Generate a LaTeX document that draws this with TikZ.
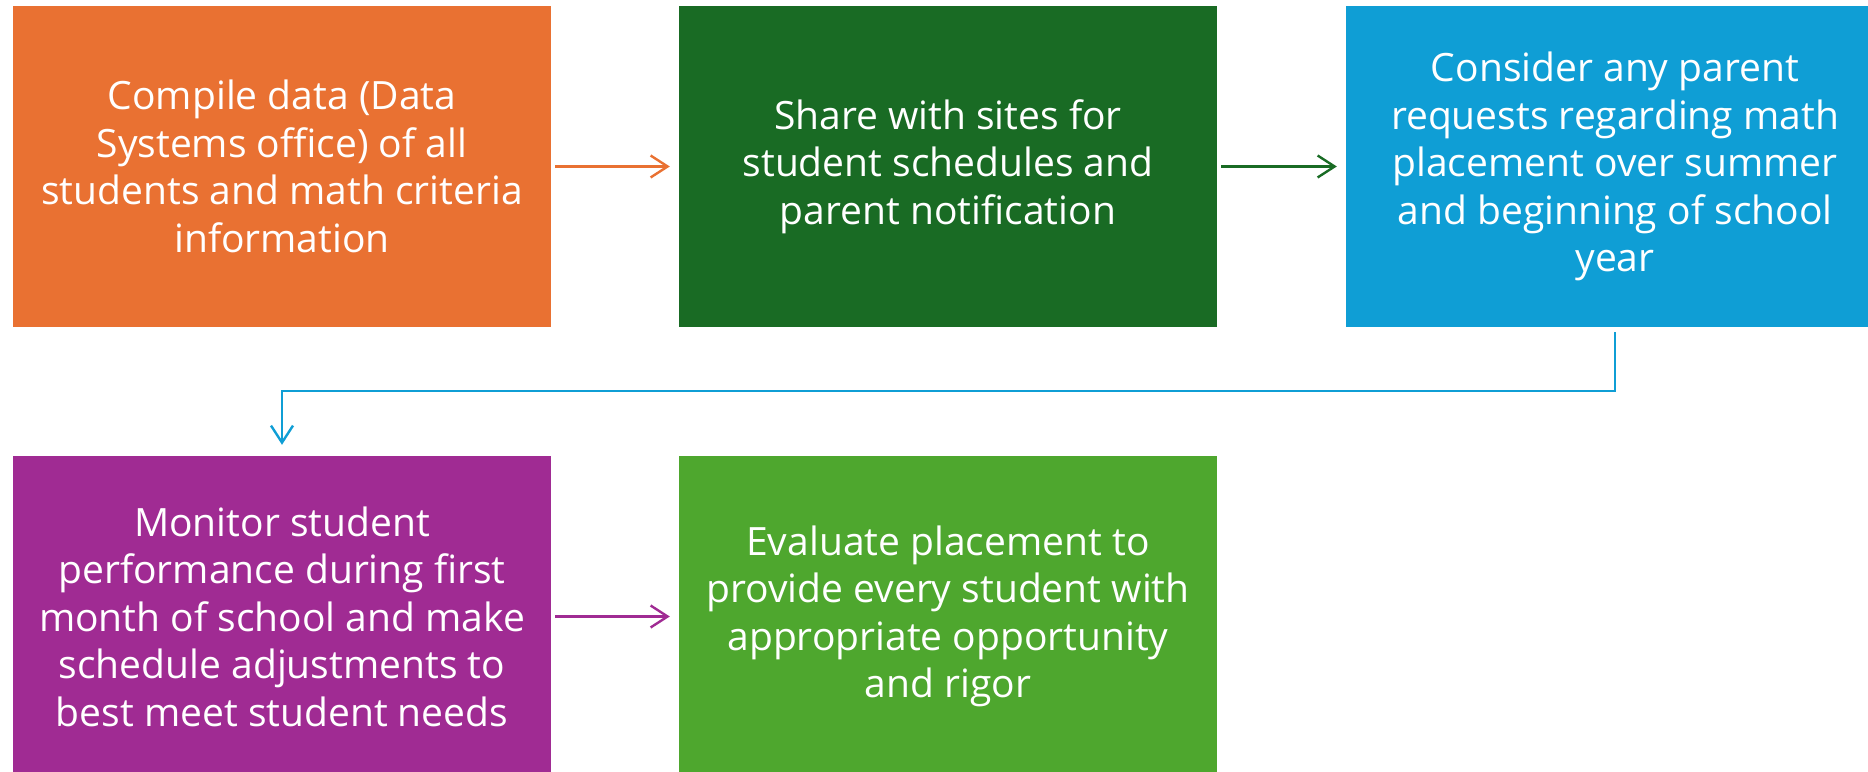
\documentclass[tikz,border=0pt]{standalone}
\usepackage{fontspec}
\setmainfont{Open Sans}
\usepackage{tikz}
\usetikzlibrary{arrows.meta}
\definecolor{accOrange}{HTML}{E97132}
\definecolor{accDark}{HTML}{196B24}
\definecolor{accBlue}{HTML}{0F9ED5}
\definecolor{accPurple}{HTML}{A02B93}
\definecolor{accGreen}{HTML}{4EA72E}
\tikzstyle{process} = [rectangle, minimum width=538pt, minimum height=321pt, inner sep=0pt, text centered, align=center, text=white, font=\fontsize{39}{47.5}\selectfont]
\tikzstyle{arrow} = [line width=2.4pt, -{Straight Barb[length=17pt,width=22pt,line width=2.4pt]}, shorten <=4pt, shorten >=9pt]

\begin{document}
\begin{tikzpicture}[node distance=666pt]
\clip (0,0) rectangle (1868pt,771pt);

\node (compile) [process, fill=accOrange] at (282pt,604.5pt) {Compile data (Data\\Systems office) of all\\students and math criteria\\information};
\node (share) [process, fill=accDark, right of=compile] {Share with sites for\\student schedules and\\parent notification};
\node (consider) [process, fill=accBlue, right of=share, node distance=667pt] {Consider any parent\\requests regarding math\\placement over summer\\and beginning of school\\year};
\node (monitor) [process, fill=accPurple, below of=compile, node distance=450pt] {Monitor student\\performance during first\\month of school and make\\schedule adjustments to\\best meet student needs};
\node (evaluate) [process, fill=accGreen, right of=monitor] {Evaluate placement to\\provide every student with\\appropriate opportunity\\and rigor};

\draw [arrow, accOrange] (compile) -- (share);
\draw [arrow, accDark] (share) -- (consider);
\draw [arrow, accBlue, shorten <=5pt, shorten >=11pt] (consider.south) -- ++(0,-64pt) -| (monitor.north);
\draw [arrow, accPurple] (monitor) -- (evaluate);
\end{tikzpicture}
\end{document}
